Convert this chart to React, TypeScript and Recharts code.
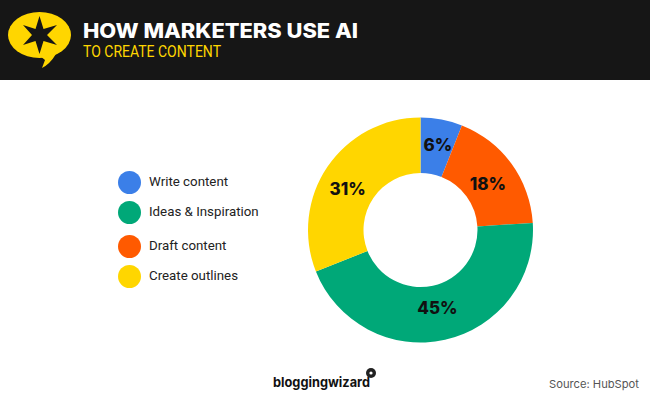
import { Cell, Legend, Pie, PieChart } from "recharts";

const CATEGORIES = ["Write content", "Ideas & Inspiration", "Draft content", "Create outlines"];
const LEGEND_ORDER = [0, 1, 2, 3];
const PIE_ORDER = [0, 2, 1, 3];
const VALUES = [6, 45, 18, 31];
const COLORS = ["#3b7fe8", "#00a878", "#ff5a00", "#ffd600"];
const LEGEND_GAPS = [30, 34, 30];
// the labels in the original are placed by hand, not on one radius
const LABEL_NUDGE_X = [2, 1, -1, -5];
const LABEL_NUDGE_Y = [-4, 2, -2, 5];

const data = PIE_ORDER.map((i) => ({ name: CATEGORIES[i], value: VALUES[i], color: COLORS[i] }));

const RAD = Math.PI / 180;

function renderLabel({ cx, cy, midAngle, value, index }: any) {
  const r = 82;
  const x = cx + r * Math.cos(-midAngle * RAD) + LABEL_NUDGE_X[index];
  const y = cy + r * Math.sin(-midAngle * RAD) + LABEL_NUDGE_Y[index];
  return (
    <text x={x} y={y} textAnchor="middle" dominantBaseline="central" fontFamily="Inter, sans-serif" fontSize={17} fontWeight={800} fill="#111">
      {value}%
    </text>
  );
}

function SideLegend() {
  return (
    <div style={{ position: "absolute", left: 118, top: 171 }}>
      {LEGEND_ORDER.map((i, idx) => (
        <div
          key={CATEGORIES[i]}
          style={{ display: "flex", alignItems: "center", height: 23, marginBottom: idx < 3 ? LEGEND_GAPS[idx] - 23 : 0 }}
        >
          <span style={{ width: 23, height: 23, borderRadius: "50%", background: COLORS[i], flex: "none" }} />
          <span style={{ marginLeft: 8, marginTop: -2, fontFamily: "Roboto, sans-serif", fontSize: 13.3, color: "#222", whiteSpace: "nowrap" }}>
            {CATEGORIES[i]}
          </span>
        </div>
      ))}
    </div>
  );
}

function Header() {
  return (
    <svg width={650} height={80} style={{ position: "absolute", left: 0, top: 0, display: "block" }}>
      <rect width={650} height={80} fill="#161616" />
      <ellipse cx={39.5} cy={35} rx={31.5} ry={23} fill="#ffd600" />
      <path d="M40 56 L45 60 L42 68 Q50 64 56 54 Z" fill="#ffd600" />
      <path
        d="M39.5 16 L43.5 29 L57 25 L47 35 L57 45 L43.5 41 L39.5 54 L35.5 41 L23 45 L32 35 L23 25 L35.5 29 Z"
        fill="#161616"
      />
      <text x={83} y={38} fontFamily="Inter, sans-serif" fontSize={20} fontWeight={800} fill="#fff" textLength={275} lengthAdjust="spacingAndGlyphs">
        HOW MARKETERS USE AI
      </text>
      <text x={83} y={57} fontFamily="Roboto, sans-serif" fontSize={16.5} fill="#ffd600" textLength={138} lengthAdjust="spacingAndGlyphs">
        TO CREATE CONTENT
      </text>
    </svg>
  );
}

function Footer() {
  return (
    <svg width={650} height={400} style={{ position: "absolute", left: 0, top: 0, pointerEvents: "none" }}>
      <text x={273} y={387} fontFamily="Inter, sans-serif" fontSize={13.5} fontWeight={700} fill="#111" textLength={97} lengthAdjust="spacingAndGlyphs">
        bloggingwizard
      </text>
      <circle cx={371} cy={373} r={5} fill="#222" />
      <circle cx={371} cy={373} r={1.6} fill="#fff" />
      <text x={549} y={388} fontFamily="Inter, sans-serif" fontSize={11} fill="#555" textLength={90} lengthAdjust="spacingAndGlyphs">
        Source: HubSpot
      </text>
    </svg>
  );
}

export default function App() {
  return (
    <div style={{ position: "relative", width: 650, height: 400, background: "#fff", overflow: "hidden" }}>
      <style>{"body{margin:0}"}</style>
      <Header />
      <div style={{ position: "absolute", left: 0, top: 0 }}>
        <PieChart width={650} height={400} margin={{ top: 0, right: 0, bottom: 0, left: 0 }}>
          <Pie
            data={data}
            dataKey="value"
            nameKey="name"
            cx={420.5}
            cy={230}
            innerRadius={57}
            outerRadius={112.5}
            startAngle={90}
            endAngle={-270}
            stroke="none"
            labelLine={false}
            label={renderLabel}
            isAnimationActive={false}
          >
            {data.map((d) => (
              <Cell key={d.name} fill={d.color} />
            ))}
          </Pie>
          <Legend content={() => null} />
        </PieChart>
      </div>
      <SideLegend />
      <Footer />
    </div>
  );
}
